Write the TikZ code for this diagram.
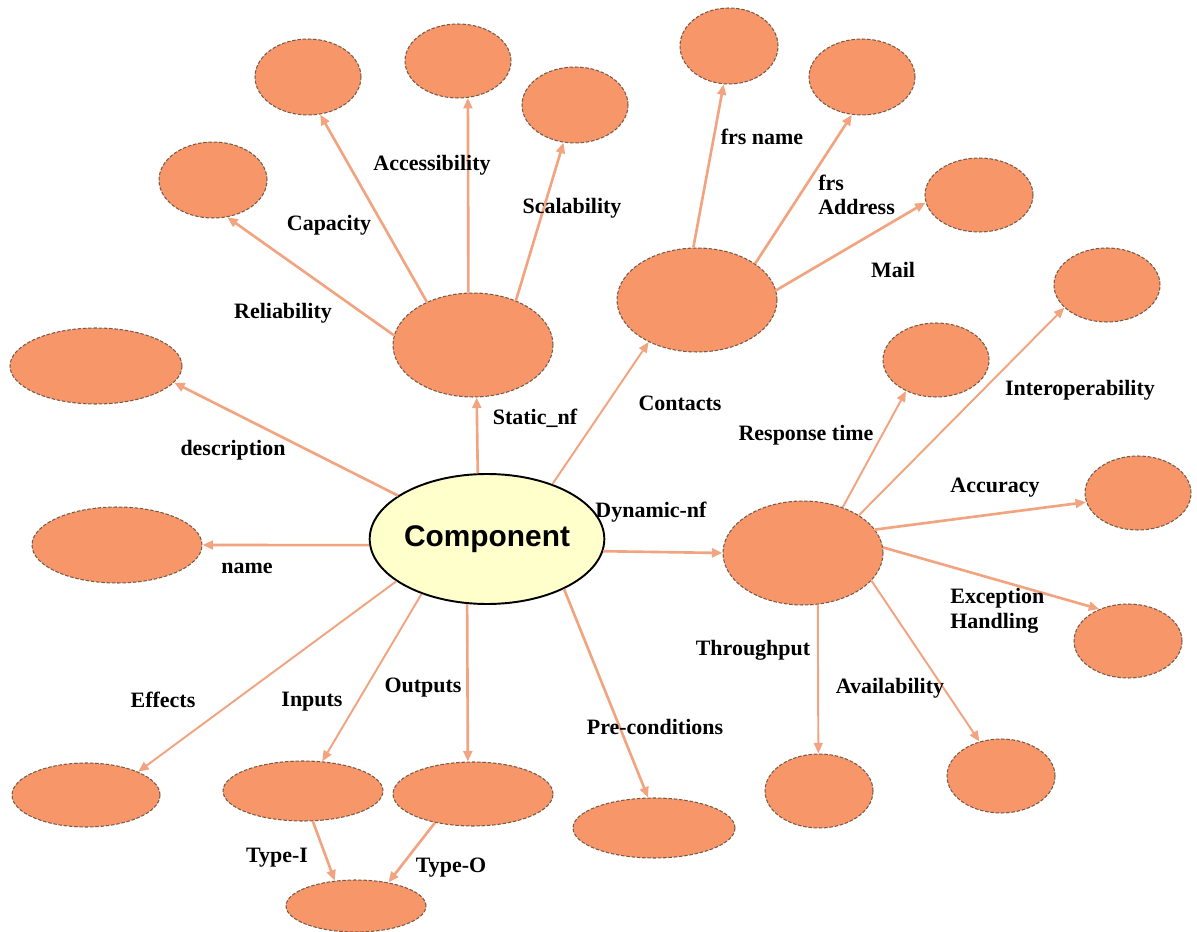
\documentclass[tikz,border=0pt]{standalone}
\usepackage{fontspec}
\setmainfont{Liberation Serif}
\newfontfamily\compfont{Liberation Sans}
\usetikzlibrary{shapes.geometric,arrows.meta}
\definecolor{leaffill}{RGB}{247,150,104}
\definecolor{leafdraw}{RGB}{120,90,72}
\definecolor{edgecol}{RGB}{242,164,128}
\definecolor{compfill}{RGB}{255,255,204}
\tikzset{
  leaf/.style={ellipse, fill=leaffill, draw=leafdraw, dash pattern=on 2pt off 1pt, line width=0.6pt, inner sep=0pt},
  hub/.style={leaf},
  comp/.style={ellipse, fill=compfill, draw=black, line width=1.1pt, inner sep=0pt,
    font=\compfont\bfseries\fontsize{17}{20}\selectfont},
  edge/.style={draw=edgecol, line width=1.5pt, -{Triangle[length=6pt,width=5pt]}},
  thin edge/.style={edge, line width=1.1pt},
  lbl/.style={font=\bfseries\fontsize{12.5}{14}\selectfont, inner sep=0pt, align=left},
}
\begin{document}
\begin{tikzpicture}[x=0.02cm,y=-0.02cm]
\useasboundingbox[fill=white] (0,0) rectangle (1197,932);
% main nodes
\node[comp, minimum width=4.16cm, minimum height=2.6cm] (comp) at (487,539) {Component};
\node[hub, minimum width=3.2cm, minimum height=2.08cm] (stat) at (473,345) {};
\node[hub, minimum width=3.2cm, minimum height=2.08cm] (cont) at (697,300) {};
\node[hub, minimum width=3.2cm, minimum height=2.08cm] (dyn) at (803,553) {};
% leaves
\node[leaf, minimum width=3.44cm, minimum height=1.52cm] (desc) at (96,366) {};
\node[leaf, minimum width=3.4cm, minimum height=1.52cm] (name) at (117,545) {};
\node[leaf, minimum width=2.96cm, minimum height=1.28cm] (eff) at (86,795) {};
\node[leaf, minimum width=3.2cm, minimum height=1.2cm] (inp) at (303,791) {};
\node[leaf, minimum width=3.2cm, minimum height=1.28cm] (out) at (473,794) {};
\node[leaf, minimum width=2.8cm, minimum height=1.04cm] (typ) at (356,906) {};
\node[leaf, minimum width=3.24cm, minimum height=1.2cm] (pre) at (654,828) {};
\node[leaf, minimum width=2.16cm, minimum height=1.52cm] (rel) at (213,180) {};
\node[leaf, minimum width=2.12cm, minimum height=1.52cm] (cap) at (308,77) {};
\node[leaf, minimum width=2.12cm, minimum height=1.48cm] (acc) at (458,61) {};
\node[leaf, minimum width=2.12cm, minimum height=1.52cm] (scal) at (575,105) {};
\node[leaf, minimum width=1.96cm, minimum height=1.52cm] (fn) at (729,46) {};
\node[leaf, minimum width=2.12cm, minimum height=1.52cm] (fa) at (862,77) {};
\node[leaf, minimum width=2.16cm, minimum height=1.48cm] (mail) at (979,195) {};
\node[leaf, minimum width=2.12cm, minimum height=1.48cm] (inter) at (1107,285) {};
\node[leaf, minimum width=2.12cm, minimum height=1.48cm] (resp) at (936,360) {};
\node[leaf, minimum width=2.12cm, minimum height=1.48cm] (accu) at (1138,493) {};
\node[leaf, minimum width=2.16cm, minimum height=1.48cm] (exc) at (1128,641) {};
\node[leaf, minimum width=2.16cm, minimum height=1.48cm] (thr) at (819,791) {};
\node[leaf, minimum width=2.16cm, minimum height=1.48cm] (avail) at (1001,776) {};
% edges from Component
\draw[edge] (comp.154) -- (desc.-12);
\draw[edge] (comp.183) -- (name.0);
\draw[thin edge] (comp.205) -- (eff.24);
\draw[thin edge] (comp.220) -- (inp.57);
\draw[edge] (comp.253) -- (out.99);
\draw[edge] (comp.-33) -- (pre.101);
\draw[edge] (comp.-6) -- (dyn.180);
\draw[thin edge] (comp.40) -- (cont.221);
\draw[edge] (comp.98) -- (stat.-86);
% Static
\draw[edge] (stat.173) -- (rel.-69);
\draw[edge] (stat.137) -- (cap.-72);
\draw[edge] (stat.95) -- (acc.-75);
\draw[edge] (stat.46) -- (scal.-107);
% Contacts
\draw[edge] (cont.94) -- (fn.-98);
\draw[edge] (cont.32) -- (fa.-105);
\draw[edge] (cont.7) -- (mail.188);
% Dynamic
\draw[thin edge] (dyn.49) -- (resp.-134);
\draw[thin edge] (dyn.34) -- (inter.-152);
\draw[edge] (dyn.18) -- (accu.-170);
\draw[edge] (dyn.4) -- (exc.132);
\draw[thin edge] (dyn.-74) -- (thr.91);
\draw[thin edge] (dyn.-22) -- (avail.122);
% Types
\draw[edge] (inp.-72) -- (typ.130);
\draw[edge] (out.217) -- (typ.36);
% labels
\node[lbl] (lrel) at (283,313) {Reliability};
\node[lbl] (lcap) at (329,225) {Capacity};
\node[lbl] (lacc) at (432,165) {Accessibility};
\node[lbl] (lscal) at (572,208) {Scalability};
\node[lbl] (lfn) at (762,137) {frs name};
\node[lbl, anchor=west] (lfa) at (818,195) {frs\\Address};
\node[lbl] (lmail) at (893,270) {Mail};
\node[lbl] (linter) at (1080,390) {Interoperability};
\node[lbl] (lresp) at (806,435) {Response time};
\node[lbl] (laccu) at (995,488) {Accuracy};
\node[lbl, anchor=west] (lexc) at (950,611) {Exception\\Handling};
\node[lbl] (lthr) at (753,650) {Throughput};
\node[lbl] (lavail) at (890,688) {Availability};
\node[lbl] (lpre) at (655,727) {Pre-conditions};
\node[lbl] (lstat) at (535,418) {Static\_nf};
\node[lbl] (lcont) at (680,403) {Contacts};
\node[lbl] (ldyn) at (651,512) {Dynamic-nf};
\node[lbl] (ldesc) at (233,450) {description};
\node[lbl] (lname) at (247,568) {name};
\node[lbl] (leff) at (163,700) {Effects};
\node[lbl] (linp) at (312,702) {Inputs};
\node[lbl] (lout) at (423,688) {Outputs};
\node[lbl] (ltI) at (277,858) {Type-I};
\node[lbl] (ltO) at (451,868) {Type-O};
\end{tikzpicture}
\end{document}
